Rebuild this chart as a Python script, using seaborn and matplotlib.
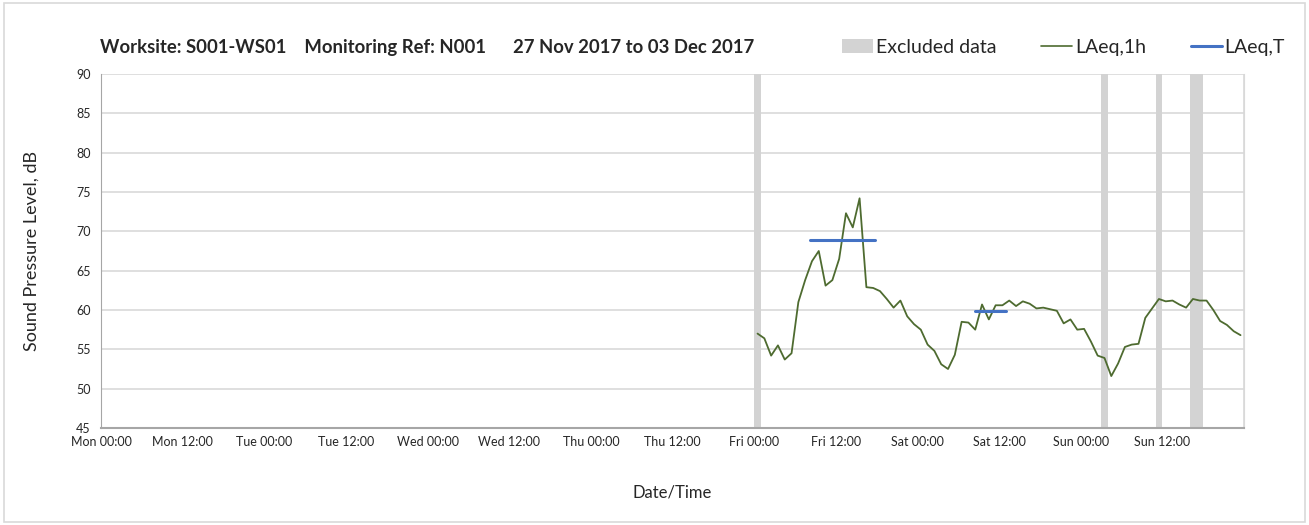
import pandas as pd
import matplotlib
matplotlib.use("Agg")
import matplotlib.pyplot as plt
import matplotlib.dates as mdates
from matplotlib.patches import Patch, Rectangle
from matplotlib.lines import Line2D
import seaborn as sns

# %% data
week_start = "2017-11-27 00:00"
week_end = "2017-12-04 00:00"
first_hour = "2017-12-01 00:30"

laeq_1h = [57.0, 56.4, 54.2, 55.5, 53.7, 54.5, 61.0, 63.8, 66.2, 67.5,
           63.1, 63.8, 66.5, 72.3, 70.5, 74.2, 62.9, 62.8, 62.4, 61.4,
           60.3, 61.2, 59.2, 58.2, 57.5, 55.6, 54.8, 53.1, 52.5, 54.3,
           58.5, 58.4, 57.5, 60.7, 58.8, 60.6, 60.6, 61.2, 60.5, 61.1,
           60.8, 60.2, 60.3, 60.1, 59.9, 58.3, 58.8, 57.5, 57.6, 56.0,
           54.2, 53.9, 51.6, 53.2, 55.3, 55.6, 55.7, 59.0, 60.2, 61.4,
           61.1, 61.2, 60.7, 60.3, 61.4, 61.2, 61.2, 60.0, 58.6, 58.1,
           57.3, 56.8]

laeq_t_start = ["2017-12-01 08:15", "2017-12-02 08:30"]
laeq_t_end = ["2017-12-01 17:45", "2017-12-02 13:00"]
laeq_t = [68.9, 59.9]

excl_start = ["2017-12-01 00:00", "2017-12-03 03:00", "2017-12-03 11:00", "2017-12-03 16:00"]
excl_end = ["2017-12-01 01:00", "2017-12-03 04:00", "2017-12-03 12:00", "2017-12-03 18:00"]

title = "Worksite: S001-WS01    Monitoring Ref: N001      27 Nov 2017 to 03 Dec 2017"

# %%
df = pd.DataFrame({
    "time": pd.date_range(first_hour, periods=len(laeq_1h), freq="h"),
    "level": laeq_1h,
})
rows = []
for i, (s, e, v) in enumerate(zip(laeq_t_start, laeq_t_end, laeq_t)):
    rows.append({"time": pd.Timestamp(s), "level": v, "period": i})
    rows.append({"time": pd.Timestamp(e), "level": v, "period": i})
df_t = pd.DataFrame(rows)

green = "#4E6B30"
blue = "#4472C4"
grey_band = "#D3D3D3"
grid_col = "#D9D9D9"
axis_col = "#A6A6A6"

sns.set_style("white")
plt.rcParams["font.family"] = ["Lato", "DejaVu Sans"]

fig = plt.figure(figsize=(13.09, 5.25), dpi=100)
ax = fig.add_axes([0.0772, 0.1848, 0.8731, 0.6742])

for s, e in zip(excl_start, excl_end):
    ax.axvspan(pd.Timestamp(s), pd.Timestamp(e), color=grey_band, lw=0, zorder=1)

sns.lineplot(data=df, x="time", y="level", color=green, lw=1.3, ax=ax, zorder=3)
sns.lineplot(data=df_t, x="time", y="level", units="period", estimator=None,
             color=blue, lw=2.2, ax=ax, zorder=4)

ax.set_xlim(pd.Timestamp(week_start), pd.Timestamp(week_end))
ax.set_ylim(45, 90)
ax.set_yticks(range(45, 91, 5))

ax.xaxis.set_major_locator(mdates.HourLocator(byhour=[0, 12]))
ax.xaxis.set_major_formatter(mdates.DateFormatter("%a %H:%M"))
ax.xaxis.set_minor_locator(mdates.DayLocator())
ax.grid(False)
ax.grid(True, which="minor", axis="x", color=grid_col, lw=1.2, zorder=0)
ax.grid(True, which="major", axis="y", color=grid_col, lw=1.2, zorder=0)
ax.set_axisbelow(True)

ax.spines["top"].set_visible(False)
ax.spines["right"].set_color(grid_col)
ax.spines["left"].set_color(axis_col)
ax.spines["bottom"].set_color(axis_col)
ax.spines["bottom"].set_linewidth(1.5)

ax.tick_params(axis="both", which="major", length=4, color=axis_col,
               labelsize=9, labelcolor="#262626", direction="out")
ax.tick_params(axis="x", which="minor", length=0)
ax.tick_params(axis="x", pad=2)
ax.set_xticks(ax.get_xticks()[:-1])

ax.set_xlabel("Date/Time", fontsize=12, color="#262626", labelpad=26)
ax.set_ylabel("Sound Pressure Level, dB", fontsize=13, color="#262626", labelpad=26)

fig.text(0.0765, 0.91, title, fontsize=13.3, fontweight="bold", ha="left", va="center")

handles = [Patch(facecolor=grey_band, edgecolor="none"),
           Line2D([], [], color=green, lw=1.2),
           Line2D([], [], color=blue, lw=2.2)]
fig.legend(handles, ["Excluded data", "LAeq,1h", "LAeq,T"], ncol=3, frameon=False,
           loc="center right", bbox_to_anchor=(0.995, 0.91), fontsize=14,
           handlelength=1.6, handletextpad=0.15, columnspacing=2.3)

fig.add_artist(Rectangle((0.003, 0.005), 0.994, 0.99, transform=fig.transFigure,
                         fill=False, edgecolor="#D9D9D9", lw=1.2))

plt.savefig("out.png", dpi=100)
